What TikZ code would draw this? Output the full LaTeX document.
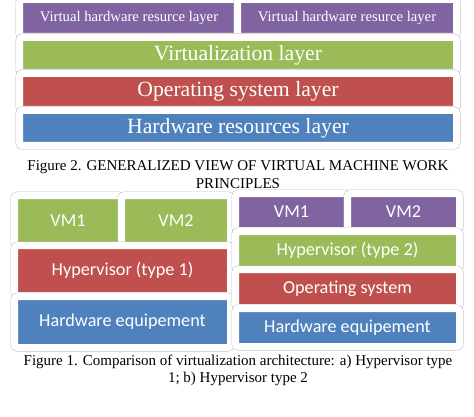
\documentclass[tikz,border=0pt]{standalone}
\usepackage{fontspec}
\setmainfont{Liberation Serif}
\newfontfamily\calibri{Carlito}
\usetikzlibrary{positioning}
\definecolor{officepurple}{RGB}{128,100,162}
\definecolor{officegreen}{RGB}{155,187,89}
\definecolor{officered}{RGB}{192,80,77}
\definecolor{officeblue}{RGB}{79,129,189}
\tikzset{
  layer/.style={fill=#1, text=white, rounded corners=3pt, inner sep=0pt,
    preaction={draw=gray!50, line width=8pt}, draw=white, line width=7pt},
  smalltxt/.style={font=\fontsize{14.7}{16}\selectfont},
  bigtxt/.style={font=\fontsize{21.7}{24}\selectfont},
  vmtxt/.style={font=\calibri\fontsize{18.2}{21}\selectfont},
  captxt/.style={font=\fontsize{15}{17}\selectfont, anchor=base, inner sep=0pt}
}

\begin{document}
\begin{tikzpicture}[x=1pt, y=-1pt]
        \useasboundingbox (0,0) rectangle (474,417);
        % Figure 2
        \node[layer=officepurple, smalltxt, minimum width=219pt, minimum height=37pt] (vhr1) at (129,18) {Virtual hardware resurce layer};
        \node[layer=officepurple, smalltxt, minimum width=219pt, minimum height=37pt] (vhr2) at (347,18) {Virtual hardware resurce layer};
        \node[layer=officegreen, bigtxt, minimum width=437pt, minimum height=35pt] (virt) at (238,55) {Virtualization layer};
        \node[layer=officered, bigtxt, minimum width=437pt, minimum height=36pt] (os) at (238,91.5) {Operating system layer};
        \node[layer=officeblue, bigtxt, minimum width=437pt, minimum height=35pt] (hw) at (238,128) {Hardware resources layer};
        \node[captxt] (cap2a) at (238,171) {Figure 2. GENERALIZED VIEW OF VIRTUAL MACHINE WORK};
        \node[captxt] (cap2b) at (238,188) {PRINCIPLES};
        % Figure 1 a)
        \node[layer=officegreen, vmtxt, minimum width=107pt, minimum height=50pt] (vma1) at (68,220.5) {VM1};
        \node[layer=officegreen, vmtxt, minimum width=109pt, minimum height=50pt] (vma2) at (176,220.5) {VM2};
        \node[layer=officered, vmtxt, minimum width=216pt, minimum height=50pt] (hypa) at (122.5,270.5) {Hypervisor (type 1)};
        \node[layer=officeblue, vmtxt, minimum width=216pt, minimum height=51pt] (hwa) at (122.5,322) {Hardware equipement};
        % Figure 1 b)
        \node[layer=officepurple, vmtxt, minimum width=112pt, minimum height=37pt] (vmb1) at (291.5,212) {VM1};
        \node[layer=officepurple, vmtxt, minimum width=112pt, minimum height=37pt] (vmb2) at (403.5,212) {VM2};
        \node[layer=officegreen, vmtxt, minimum width=224pt, minimum height=38pt] (hypb) at (347.5,250.5) {Hypervisor (type 2)};
        \node[layer=officered, vmtxt, minimum width=224pt, minimum height=38pt] (osb) at (347.5,288.5) {Operating system};
        \node[layer=officeblue, vmtxt, minimum width=224pt, minimum height=38pt] (hwb) at (347.5,327.5) {Hardware equipement};
        \node[captxt] (cap1a) at (238,365) {Figure 1. Comparison of virtualization architecture: a) Hypervisor type};
        \node[captxt] (cap1b) at (238,382) {1; b) Hypervisor type 2};
    \end{tikzpicture}
\end{document}
